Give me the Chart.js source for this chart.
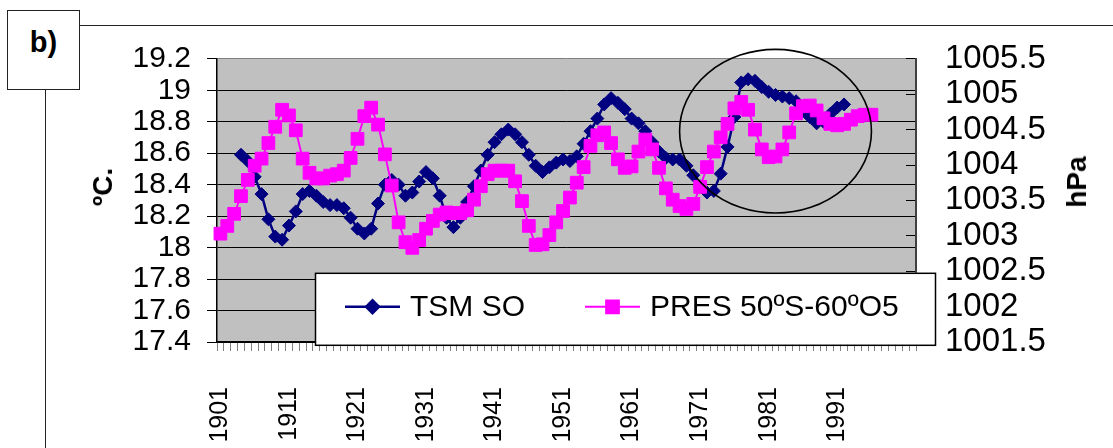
<!DOCTYPE html>
<html><head><meta charset="utf-8">
<script src="https://cdn.jsdelivr.net/npm/chart.js@4.4.1/dist/chart.umd.min.js"></script>
<style>
html,body{margin:0;padding:0;background:#fff;}
#wrap{position:relative;width:1113px;height:448px;overflow:hidden;background:#fff;}
#c{position:absolute;left:0;top:0;}
.frameBox{position:absolute;left:7px;top:10px;width:73px;height:80px;border:1.5px solid #222;box-sizing:border-box;background:#fff;}
.frameBox span{position:absolute;left:0;width:100%;top:17px;text-align:center;font:bold 29px "Liberation Sans",Arial,sans-serif;line-height:29px;color:#000;}
.hline{position:absolute;left:80px;top:25px;width:1033px;height:0;border-top:1.5px solid #222;}
.vline{position:absolute;left:45px;top:89px;width:0;height:359px;border-left:1.5px solid #222;}
.vtitle{position:absolute;transform:translate(-50%,-50%) rotate(-90deg);white-space:nowrap;font:bold 28px "Liberation Sans",Arial,sans-serif;color:#000;line-height:30px;}
#ltitle{left:103px;top:187px;}
#rtitle{left:1077px;top:182px;}
</style></head>
<body>
<div id="wrap">
  <div class="hline"></div>
  <div class="vline"></div>
  <div class="frameBox"><span>b)</span></div>
  <canvas id="c" width="1113" height="448"></canvas>
  <div class="vtitle" id="ltitle"></div>
  <div class="vtitle" id="rtitle"></div>
</div>
<script>
// ---- data ----
const years = Array.from({length: 102}, (_, i) => String(1901 + i));
const yearLabelEvery = 10;
const tempTicks = [17.4, 17.6, 17.8, 18, 18.2, 18.4, 18.6, 18.8, 19, 19.2];
const presTicks = [1001.5, 1002, 1002.5, 1003, 1003.5, 1004, 1004.5, 1005, 1005.5];
const tsmLabel = 'TSM SO';
const presLabel = 'PRES 50ºS-60ºO5';
const leftTitle = 'ºC.';
const rightTitle = 'hPa';
const tsmSO = [null, null, null,
  18.59, 18.55, 18.45, 18.34, 18.18, 18.07, 18.05, 18.14, 18.23, 18.34,
  18.36, 18.33, 18.29, 18.27, 18.27, 18.25, 18.19, 18.12, 18.09, 18.12,
  18.28, 18.40, 18.43, 18.40, 18.33, 18.35, 18.42, 18.48, 18.44, 18.33,
  18.19, 18.13, 18.19, 18.29, 18.39, 18.49, 18.59, 18.67, 18.72, 18.75,
  18.72, 18.67, 18.59, 18.52, 18.48, 18.51, 18.54, 18.56, 18.55, 18.58,
  18.66, 18.74, 18.82, 18.91, 18.95, 18.92, 18.88, 18.82, 18.79, 18.74,
  18.67, 18.61, 18.57, 18.56, 18.56, 18.52, 18.46, 18.39, 18.35, 18.36,
  18.47, 18.64, 18.83, 19.05, 19.07, 19.06, 19.02, 18.99, 18.97, 18.96,
  18.95, 18.93, 18.87, 18.83, 18.79, 18.80, 18.85, 18.89, 18.91];
const pres = [
  1003.03, 1003.14, 1003.31, 1003.56, 1003.79, 1003.99, 1004.09, 1004.31, 1004.54, 1004.78,
  1004.70, 1004.49, 1004.09, 1003.89, 1003.81, 1003.81, 1003.85, 1003.87, 1003.92, 1004.10,
  1004.37, 1004.69, 1004.81, 1004.57, 1004.15, 1003.71, 1003.19, 1002.91, 1002.83, 1002.94,
  1003.10, 1003.21, 1003.30, 1003.33, 1003.32, 1003.32, 1003.36, 1003.51, 1003.70, 1003.87,
  1003.92, 1003.92, 1003.92, 1003.77, 1003.49, 1003.14, 1002.87, 1002.88, 1003.01, 1003.19,
  1003.35, 1003.54, 1003.75, 1003.97, 1004.27, 1004.42, 1004.46, 1004.31, 1004.08, 1003.96,
  1003.98, 1004.19, 1004.36, 1004.22, 1003.96, 1003.67, 1003.51, 1003.42, 1003.38, 1003.45,
  1003.69, 1003.97, 1004.19, 1004.39, 1004.58, 1004.80, 1004.89, 1004.78, 1004.50, 1004.22,
  1004.11, 1004.12, 1004.22, 1004.46, 1004.73, 1004.83, 1004.84, 1004.77, 1004.66, 1004.58,
  1004.56, 1004.58, 1004.64, 1004.69, 1004.71, 1004.71];
// highlighted region (data coordinates)
const highlight = {centerIndex: 81, centerValue: 18.74, halfCategories: 14, halfValue: 0.52};

document.getElementById('ltitle').textContent = leftTitle;
document.getElementById('rtitle').textContent = rightTitle;

const FONT = '"Liberation Sans", Arial, sans-serif';
const NAVY = '#000080', MAGENTA = '#FF00FF';

const plotBg = {
  id: 'plotBg',
  beforeDraw(chart) {
    const {ctx, chartArea: a} = chart;
    ctx.save();
    ctx.fillStyle = '#C0C0C0';
    ctx.fillRect(a.left, a.top, a.right - a.left, a.bottom - a.top);
    ctx.restore();
  }
};

const ellipsePlugin = {
  id: 'ellipse',
  afterDatasetsDraw(chart) {
    const {ctx, scales} = chart;
    const cx = scales.x.getPixelForValue(highlight.centerIndex);
    const rx = scales.x.getPixelForValue(highlight.centerIndex + highlight.halfCategories) - cx;
    const cy = scales.y.getPixelForValue(highlight.centerValue);
    const ry = scales.y.getPixelForValue(highlight.centerValue - highlight.halfValue) - cy;
    ctx.save();
    ctx.beginPath();
    ctx.ellipse(cx, cy, rx, ry, 0, 0, Math.PI * 2);
    ctx.lineWidth = 1.6;
    ctx.strokeStyle = '#000';
    ctx.stroke();
    ctx.restore();
  }
};

const boxLegend = {
  id: 'boxLegend',
  afterDraw(chart) {
    const {ctx, chartArea: a} = chart;
    const x0 = a.left + 98, y0 = a.top + 214, w = 620, h = 72;
    ctx.save();
    ctx.fillStyle = '#fff';
    ctx.fillRect(x0, y0, w, h);
    ctx.strokeStyle = '#000';
    ctx.lineWidth = 1.5;
    ctx.strokeRect(x0 + 0.5, y0 + 0.5, w, h);
    const cy = y0 + 34;
    const offs = [30, 270];
    chart.data.datasets.forEach((ds, i) => {
      const sx = x0 + offs[i];
      ctx.strokeStyle = ds.borderColor;
      ctx.lineWidth = ds.borderWidth;
      ctx.beginPath(); ctx.moveTo(sx, cy); ctx.lineTo(sx + 55, cy); ctx.stroke();
      Chart.helpers.drawPoint(ctx, {pointStyle: ds.pointStyle, radius: ds.pointRadius, borderWidth: 1, rotation: 0}, sx + 27.5, cy);
      ctx.fillStyle = ds.backgroundColor;
      ctx.fill();
      ctx.fillStyle = '#000';
      ctx.font = '30px ' + FONT;
      ctx.textBaseline = 'middle';
      ctx.textAlign = 'left';
      ctx.fillText(ds.label, sx + 65, cy + 1);
    });
    ctx.restore();
  }
};

new Chart(document.getElementById('c'), {
  type: 'line',
  data: {
    labels: years,
    datasets: [
      {label: tsmLabel, data: tsmSO, yAxisID: 'y', borderColor: NAVY, backgroundColor: NAVY,
       borderWidth: 2.5, pointStyle: 'rectRot', pointRadius: 6.5, pointBorderWidth: 1,
       pointBackgroundColor: NAVY, pointBorderColor: NAVY, order: 1, tension: 0},
      {label: presLabel, data: pres, yAxisID: 'y1', borderColor: MAGENTA, backgroundColor: MAGENTA,
       borderWidth: 2, pointStyle: 'rect', pointRadius: 9, pointBorderWidth: 1,
       pointBackgroundColor: MAGENTA, pointBorderColor: MAGENTA, order: 0, tension: 0}
    ]
  },
  options: {
    responsive: false,
    animation: false,
    devicePixelRatio: 1,
    layout: {padding: {top: 52, left: 0, right: 0, bottom: 0}},
    plugins: {legend: {display: false}, tooltip: {enabled: false}},
    scales: {
      x: {
        type: 'category',
        offset: true,
        afterFit(s) { s.height = 106; },
        grid: {display: true, drawOnChartArea: false, drawTicks: true, tickLength: 9, tickColor: '#808080', tickWidth: 1, offset: true},
        border: {display: true, color: '#000', width: 1.5},
        ticks: {
          autoSkip: false, minRotation: 90, maxRotation: 90, padding: 36,
          color: '#000', font: {family: FONT, size: 25},
          callback(v, i) { return (i % yearLabelEvery === 0 && i < pres.length) ? years[i] : ''; }
        }
      },
      y: {
        position: 'left',
        min: tempTicks[0], max: tempTicks[tempTicks.length - 1],
        afterBuildTicks(s) { s.ticks = tempTicks.map(v => ({value: v})); },
        afterFit(s) { s.width = 217; },
        grid: {color: c => (c.tick && c.tick.value === tempTicks[tempTicks.length - 1]) ? '#808080' : '#000', lineWidth: 1, tickLength: 10, tickColor: '#000'},
        border: {display: true, color: '#000', width: 1.5},
        ticks: {autoSkip: false, padding: 16, color: '#000', font: {family: FONT, size: 30}, callback: v => String(v)}
      },
      y1: {
        position: 'right',
        min: presTicks[0], max: presTicks[presTicks.length - 1],
        afterBuildTicks(s) { s.ticks = presTicks.map(v => ({value: v})); },
        afterFit(s) { s.width = 197; },
        grid: {drawOnChartArea: false, tickLength: -10, tickColor: '#000'},
        border: {display: true, color: '#404040', width: 2},
        ticks: {autoSkip: false, padding: 39, color: '#000', font: {family: FONT, size: 33}, callback: v => String(v)}
      }
    }
  },
  plugins: [plotBg, ellipsePlugin, boxLegend]
});
</script>
</body></html>
